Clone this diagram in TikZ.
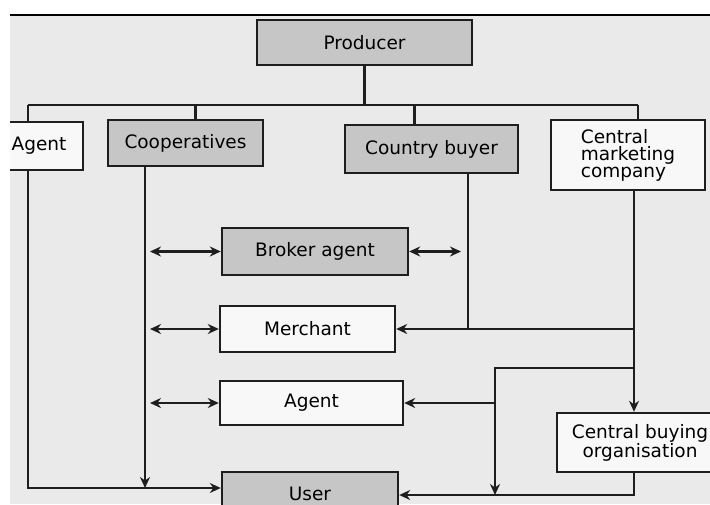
\documentclass[tikz,border=0pt]{standalone}
\usepackage{fontspec}
\setmainfont{DejaVu Sans}
\usepackage{tikz}
\usetikzlibrary{positioning, arrows.meta}

\definecolor{bgcol}{RGB}{234,234,234}
\definecolor{boxgrey}{RGB}{198,198,198}
\definecolor{boxwhite}{RGB}{248,248,248}
\definecolor{linecol}{RGB}{30,30,30}

\begin{document}
\begin{tikzpicture}[x=1pt, y=-1pt,
  box/.style={rectangle, draw=linecol, line width=2.4pt, fill=boxwhite, inner sep=2pt, font=\fontsize{18.5}{17}\selectfont},
  greybox/.style={box, fill=boxgrey},
  link/.style={draw=linecol, line width=2.2pt},
  arrow/.style={link, -{Stealth[length=11pt,width=10pt]}},
  dbl/.style={link, {Stealth[length=11pt,width=10pt]}-{Stealth[length=11pt,width=10pt]}}]

  \useasboundingbox (0,0) rectangle (710,504);
  \fill[bgcol] (10,15) rectangle (710,504);
  \draw[line width=2.5pt] (10,15) -- (710,15);
  \clip (10,15) rectangle (710,504);

  % boxes
  \node (producer) [greybox, minimum width=215pt, minimum height=45pt] at (364.5,42.5) {Producer};
  \node (agent1) [box, minimum width=88pt, minimum height=48pt] at (39,146) {Agent};
  \node (coop) [greybox, minimum width=155pt, minimum height=46pt] at (185.5,143) {Cooperatives};
  \node (country) [greybox, minimum width=173pt, minimum height=48pt] at (431.5,149) {Country buyer};
  \node (cmc) [box, minimum width=154pt, minimum height=70pt, align=left] at (628,155) {Central\\marketing\\company};
  \node (broker) [greybox, minimum width=186pt, minimum height=47pt] at (315,251.5) {Broker agent};
  \node (merchant) [box, minimum width=175pt, minimum height=46pt] at (307.5,329) {Merchant};
  \node (agent2) [box, minimum width=183pt, minimum height=44pt] at (311.5,403) {Agent};
  \node (cbo) [box, minimum width=166pt, minimum height=59pt, align=center] at (640,442.5) {Central buying\\organisation};
  \node (user) [greybox, minimum width=176pt, minimum height=44pt] at (310,494) {User};

  % junction points
  \coordinate (busL) at (28,105);
  \coordinate (busR) at (638,105);
  \coordinate (lx) at (150,0);
  \coordinate (rx) at (461,0);
  \coordinate (cv) at (145,0);
  \coordinate (cbx) at (468,0);
  \coordinate (cmx) at (634,0);
  \coordinate (ubot) at (28,488);
  \coordinate (jn) at (495,368);
  \coordinate (ubot2) at (634,495);

  % top tree
  \draw[link] (busL) -- (busR);
  \draw[link] (producer) -- (producer |- busL);
  \draw[link] (busL) -- (busL |- agent1.north);
  \draw[link] ([xshift=10pt]coop.north) -- ([xshift=10pt]coop.north |- busL);
  \draw[link] ([xshift=-17pt]country.north) -- ([xshift=-17pt]country.north |- busL);
  \draw[link] (busR) -- (busR |- cmc.north);

  % channels to user
  \draw[arrow] (busL |- agent1.south) -- (ubot) -- (ubot -| user.west);
  \draw[arrow] (cv |- coop.south) -- (cv |- ubot);
  \draw[dbl] (lx |- broker) -- (broker);
  \draw[dbl] (lx |- merchant) -- (merchant);
  \draw[dbl] (lx |- agent2) -- (agent2);
  \draw[dbl] (broker) -- (rx |- broker);
  \draw[link] (cbx |- country.south) -- (cbx |- merchant);
  \draw[arrow] (cmx |- merchant) -- (merchant);
  \draw[arrow] (cmx |- cmc.south) -- (cmx |- cbo.north);
  \draw[arrow] (cmx |- jn) -- (jn) -- (jn |- ubot2);
  \draw[arrow] (jn |- agent2) -- (agent2);
  \draw[arrow] (cmx |- cbo.south) -- (ubot2) -- (ubot2 -| user.east);
\end{tikzpicture}
\end{document}
